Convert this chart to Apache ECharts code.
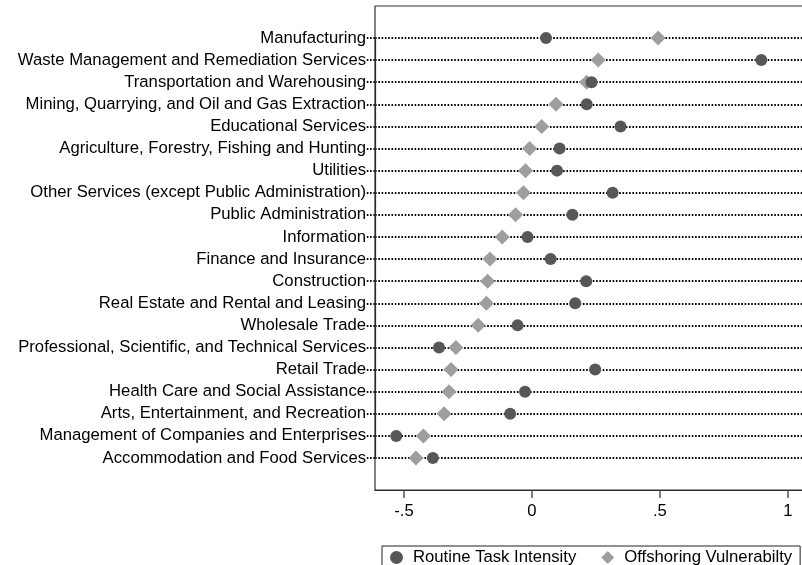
<!DOCTYPE html>
<html>
<head>
<meta charset="utf-8">
<script src="https://cdn.jsdelivr.net/npm/echarts@6/dist/echarts.min.js"></script>
<style>
  html, body { margin: 0; padding: 0; background: #fff; }
  #chart { width: 802px; height: 565px; }
</style>
</head>
<body>
<div id="chart"></div>
<script>
// industries, top to bottom
const industries = [
  'Manufacturing',
  'Waste Management and Remediation Services',
  'Transportation and Warehousing',
  'Mining, Quarrying, and Oil and Gas Extraction',
  'Educational Services',
  'Agriculture, Forestry, Fishing and Hunting',
  'Utilities',
  'Other Services (except Public Administration)',
  'Public Administration',
  'Information',
  'Finance and Insurance',
  'Construction',
  'Real Estate and Rental and Leasing',
  'Wholesale Trade',
  'Professional, Scientific, and Technical Services',
  'Retail Trade',
  'Health Care and Social Assistance',
  'Arts, Entertainment, and Recreation',
  'Management of Companies and Enterprises',
  'Accommodation and Food Services'
];

const routineTaskIntensity = [
  0.055, 0.896, 0.233, 0.214, 0.346, 0.108, 0.098, 0.315, 0.158, -0.017,
  0.073, 0.212, 0.169, -0.056, -0.363, 0.247, -0.027, -0.085, -0.530, -0.387
];

const offshoringVulnerability = [
  0.493, 0.259, 0.214, 0.094, 0.038, -0.009, -0.025, -0.033, -0.064, -0.116,
  -0.164, -0.173, -0.178, -0.210, -0.297, -0.316, -0.324, -0.343, -0.424, -0.453
];

const xTicks = [-0.5, 0, 0.5, 1];

const font = '"Liberation Sans", Arial, Helvetica, sans-serif';
const chart = echarts.init(document.getElementById('chart'));

const fmtTick = v => (v === 0 ? '0' : String(v).replace('0.', '.'));

const dots = { color: '#000', type: [1.6, 1.7], width: 1.8 };

const option = {
  animation: false,
  textStyle: { fontFamily: font },
  grid: [
    // outer frame, runs past the right edge like the original
    { left: 375, width: 437, top: 6, height: 484, outerBoundsMode: 'none', show: true, borderColor: '#333', borderWidth: 1.2, z: 1 },
    // data area
    { left: 375, width: 437, top: 38, height: 420, outerBoundsMode: 'none' }
  ],
  xAxis: [
    {
      gridIndex: 0, type: 'value', min: -0.613, max: 1.094,
      axisLine: { show: true, lineStyle: { color: '#222', width: 1.2 } },
      axisTick: { show: true, length: 8, customValues: xTicks, lineStyle: { color: '#555', width: 1.5 } },
      axisLabel: { customValues: xTicks, formatter: fmtTick, color: '#000', fontSize: 16.7, margin: 13, fontFamily: font },
      splitLine: { show: false }
    },
    { gridIndex: 1, type: 'value', min: -0.613, max: 1.094, show: false }
  ],
  yAxis: [
    { gridIndex: 0, type: 'value', show: false },
    {
      gridIndex: 1, type: 'category', data: industries, inverse: true, boundaryGap: false,
      axisLine: { show: true, onZero: false, lineStyle: { color: '#222', width: 1.2 } },
      axisTick: { show: true, length: 9, interval: 0, lineStyle: { color: '#000', type: [1.6, 1.7], width: 2 } },
      axisLabel: { interval: 0, color: '#000', fontSize: 16.7, margin: 9, fontFamily: font },
      splitLine: { show: true, interval: 0, lineStyle: dots }
    }
  ],
  legend: {
    left: 382, top: 546,
    data: ['Routine Task Intensity', 'Offshoring Vulnerabilty'],
    borderColor: '#222', borderWidth: 1,
    padding: [3, 8, 8, 8],
    itemWidth: 13, itemHeight: 13, itemGap: 25,
    textStyle: { fontSize: 16.7, color: '#000', fontFamily: font, padding: [0, 0, 0, 5] }
  },
  series: [
    {
      name: 'Routine Task Intensity', type: 'scatter', xAxisIndex: 1, yAxisIndex: 1, z: 3,
      symbol: 'circle', symbolSize: 12,
      itemStyle: { color: '#575757', opacity: 1 },
      data: routineTaskIntensity.map((v, i) => [v, industries[i]])
    },
    {
      name: 'Offshoring Vulnerabilty', type: 'scatter', xAxisIndex: 1, yAxisIndex: 1, z: 2,
      symbol: 'diamond', symbolSize: 15,
      itemStyle: { color: '#9e9e9e', opacity: 1 },
      data: offshoringVulnerability.map((v, i) => [v, industries[i]])
    }
  ]
};

chart.setOption(option);
</script>
</body>
</html>
